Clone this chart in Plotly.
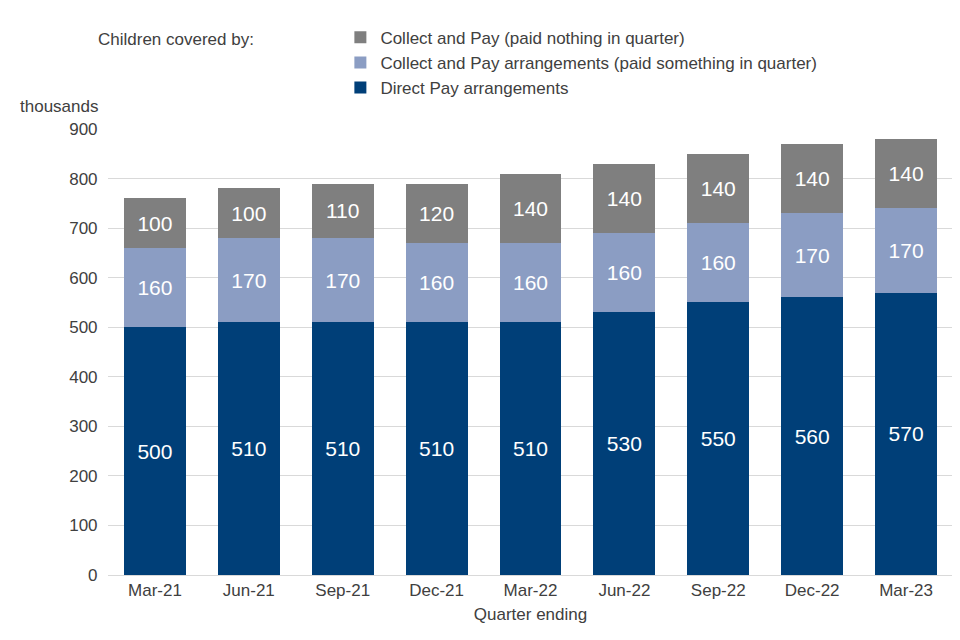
import plotly.graph_objects as go

quarters = ["Mar-21","Jun-21","Sep-21","Dec-21","Mar-22","Jun-22","Sep-22","Dec-22","Mar-23"]
direct_pay = [500,510,510,510,510,530,550,560,570]
cp_paid = [160,170,170,160,160,160,160,170,170]
cp_nothing = [100,100,110,120,140,140,140,140,140]

font = "Liberation Sans, Arial, sans-serif"
fig = go.Figure()
for name, vals, col in [("Direct Pay arrangements", direct_pay, "#003F78"),
                        ("Collect and Pay arrangements (paid something in quarter)", cp_paid, "#8B9DC3"),
                        ("Collect and Pay (paid nothing in quarter)", cp_nothing, "#7F7F7F")]:
    fig.add_trace(go.Bar(x=quarters, y=vals, name=name, marker_color=col, marker_line_width=0,
                         text=[str(v) for v in vals], textposition="inside", insidetextanchor="middle",
                         textfont=dict(color="white", size=21, family=font)))
fig.update_layout(
    barmode="stack", bargap=0.34, width=960, height=640,
    margin=dict(l=100, r=15, t=121, b=73),
    plot_bgcolor="white", paper_bgcolor="white",
    font=dict(family=font, size=17, color="#404040"),
    uniformtext=dict(mode="show", minsize=10),
    legend=dict(traceorder="reversed", x=0.275, y=1.245, xanchor="left", yanchor="top",
                font=dict(size=17, color="#404040"), itemsizing="constant", tracegroupgap=0),
    xaxis=dict(title=dict(text="Quarter ending", font=dict(size=17), standoff=8), tickfont=dict(size=17),
               showline=True, linecolor="#D9D9D9"),
    yaxis=dict(range=[0, 900], dtick=100, gridcolor="#D9D9D9", tickfont=dict(size=17),
               zeroline=False, ticksuffix="  "),
    annotations=[
        dict(text="thousands", xref="paper", yref="paper", x=-0.107, y=1.05, xanchor="left",
             yanchor="middle", showarrow=False, font=dict(size=17, color="#404040")),
        dict(text="Children covered by:", xref="paper", yref="paper", x=-0.014, y=1.2,
             xanchor="left", yanchor="middle", showarrow=False, font=dict(size=17, color="#404040")),
    ],
)
fig.write_html("out.html")
